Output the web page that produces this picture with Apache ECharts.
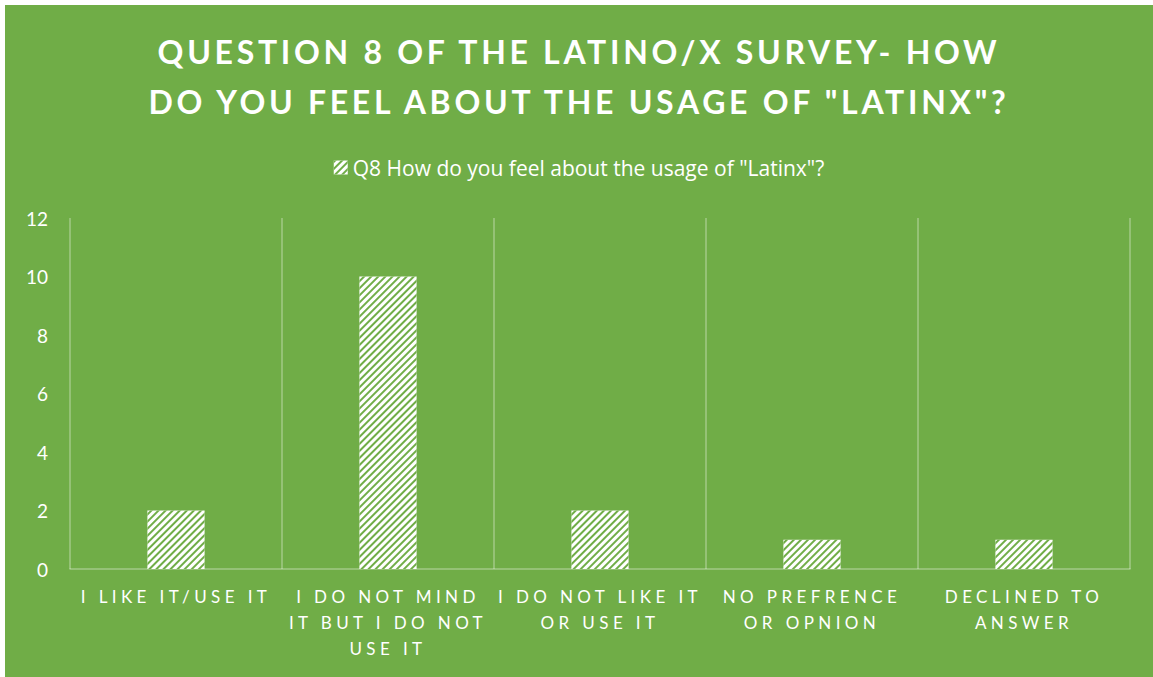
<!DOCTYPE html>
<html>
<head>
<meta charset="utf-8">
<script src="https://cdn.jsdelivr.net/npm/echarts@6/dist/echarts.min.js"></script>
<style>
  html, body { margin: 0; padding: 0; background: #ffffff; }
  #chart { position: absolute; left: 5px; top: 5px; width: 1148px; height: 672px; background: #70AD47; }
</style>
</head>
<body>
<div id="chart"></div>
<script>
const titleText = 'QUESTION 8 OF THE LATINO/X SURVEY- HOW\nDO YOU FEEL ABOUT THE USAGE OF "LATINX"?';
const seriesName = 'Q8 How do you feel about the usage of "Latinx"?';
const categories = [
  'I LIKE IT/USE IT',
  'I DO NOT MIND\nIT BUT I DO NOT\nUSE IT',
  'I DO NOT LIKE IT\nOR USE IT',
  'NO PREFRENCE\nOR OPNION',
  'DECLINED TO\nANSWER'
];
const values = [2, 10, 2, 1, 1];
const yTicks = [0, 2, 4, 6, 8, 10, 12];

const GREEN = '#70AD47';
const GRID = 'rgba(255,255,255,0.35)';
const FONT = 'Lato';

const chart = echarts.init(document.getElementById('chart'), null, { renderer: 'svg' });
chart.setOption({
  animation: false,
  backgroundColor: GREEN,
  title: {
    text: titleText,
    left: 'center',
    top: 16,
    textStyle: { color: '#ffffff', fontFamily: FONT, fontWeight: 'bold', fontSize: 32, lineHeight: 50 }
  },
  legend: {
    top: 147,
    left: 'center',
    itemWidth: 14,
    itemHeight: 14,
    itemGap: 6,
    textStyle: { color: '#ffffff', fontFamily: 'Open Sans', fontSize: 21 },
    data: [{ name: seriesName, icon: 'rect' }]
  },
  grid: { left: 65, right: 23, top: 213, bottom: 108, containLabel: false },
  xAxis: {
    type: 'category',
    data: categories,
    axisLine: { show: true, lineStyle: { color: GRID, width: 1.5 } },
    axisTick: { show: false },
    splitLine: { show: true, interval: 0, lineStyle: { color: GRID, width: 1.5 } },
    axisLabel: {
      interval: 0,
      color: '#ffffff',
      fontFamily: FONT,
      fontSize: 17,
      lineHeight: 26,
      margin: 14
    }
  },
  yAxis: {
    type: 'value',
    min: yTicks[0],
    max: yTicks[yTicks.length - 1],
    interval: 2,
    axisLine: { show: false },
    axisTick: { show: false },
    splitLine: { show: false },
    axisLabel: { color: '#ffffff', fontFamily: FONT, fontSize: 19, margin: 22 }
  },
  series: [{
    name: seriesName,
    type: 'bar',
    data: values,
    barWidth: '27%',
    itemStyle: {
      color: '#ffffff',
      decal: {
        symbol: 'rect',
        color: GREEN,
        dashArrayX: [1, 0],
        dashArrayY: [1.6, 3],
        rotation: -Math.PI / 4
      }
    }
  }]
});

function applySpacing() {
  document.querySelectorAll('#chart svg text').forEach(t => {
    const fs = parseFloat(getComputedStyle(t).fontSize);
    if (fs >= 28) t.style.letterSpacing = '3.7px';
    else if (Math.abs(fs - 17) < 0.5) t.style.letterSpacing = '4.4px';
  });
}
applySpacing();
chart.on('finished', applySpacing);
setTimeout(applySpacing, 50);
</script>
</body>
</html>
